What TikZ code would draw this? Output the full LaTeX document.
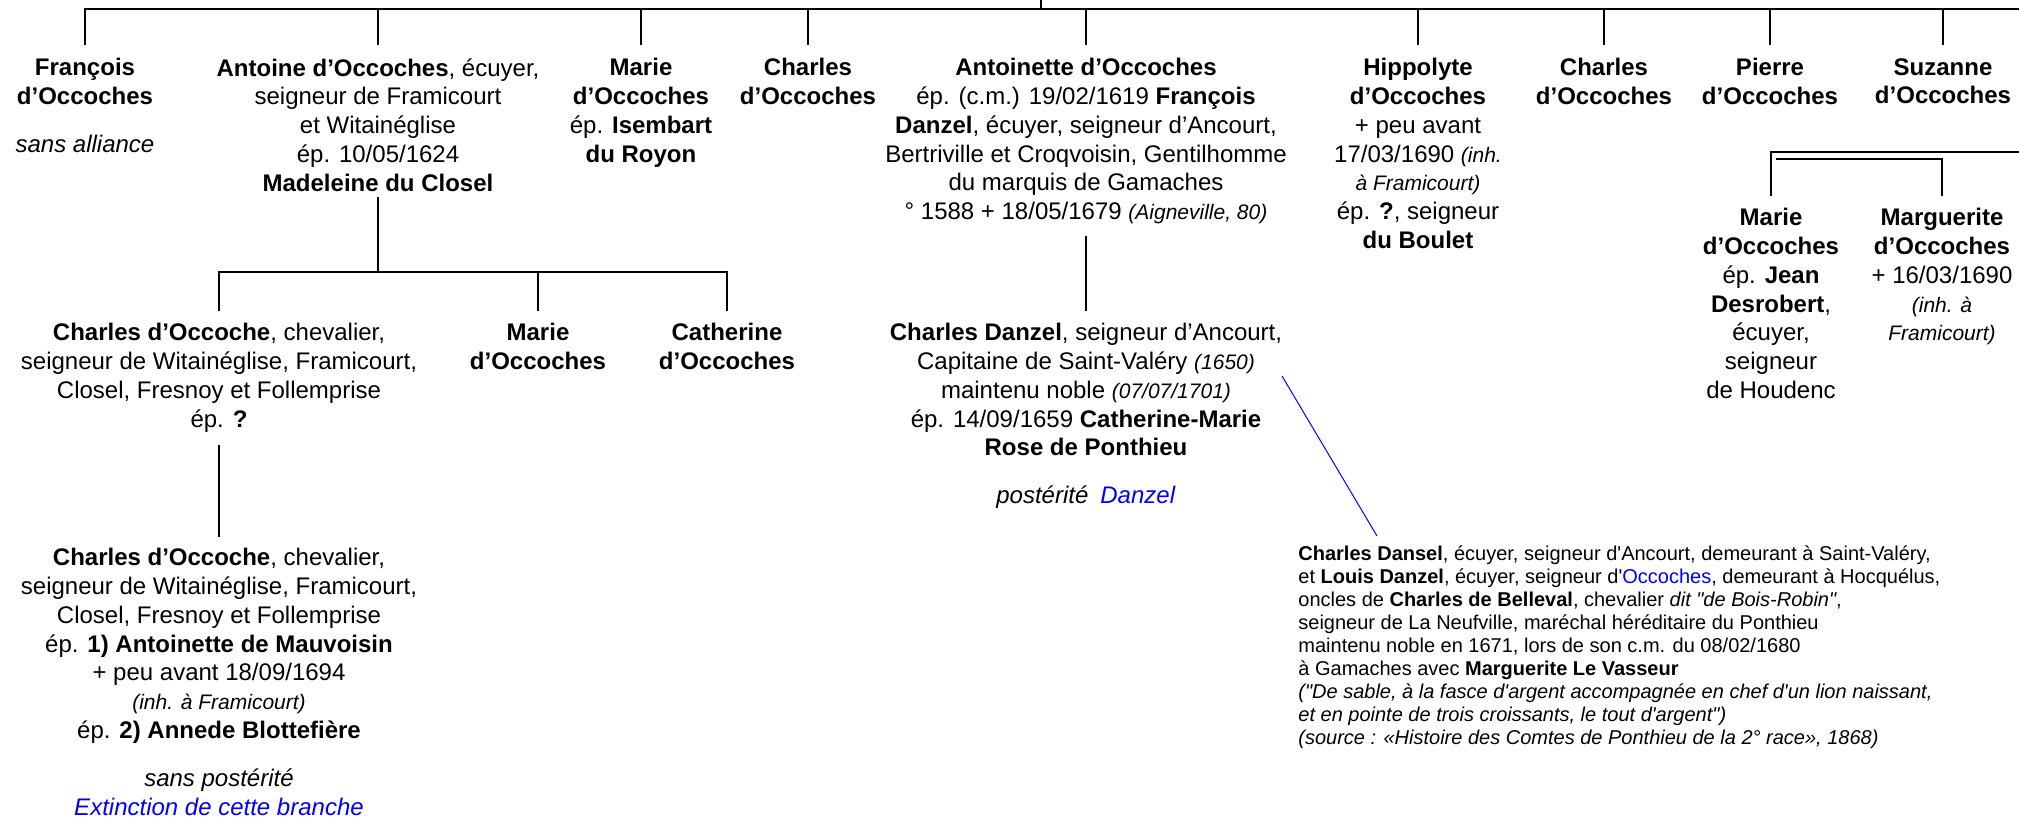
\documentclass[tikz,border=0pt]{standalone}
\usepackage{fontspec}
\setmainfont{Liberation Sans}
\newfontfamily\notefont{Liberation Sans}[Ligatures=TeXOff]
\usepackage{xcolor}
\tikzstyle{personne} = [align=center, inner sep=0pt, anchor=north,
    font=\fontsize{12}{14.4}\selectfont]
\tikzstyle{notice} = [align=left, inner sep=0pt, anchor=north west,
    font=\notefont\fontsize{10}{11.5}\selectfont]
\tikzstyle{lien} = [line width=1.4pt, line cap=rect]
\tikzstyle{renvoi} = [draw=blue, line width=0.5pt]
\newcommand{\remarque}[1]{{\fontsize{10.5}{12}\selectfont\itshape #1}}

\begin{document}
\begin{tikzpicture}[x=0.5pt,y=-0.5pt]
\useasboundingbox (0,0) rectangle (2019,817);
\coordinate (souche) at (1041,0);
\coordinate (haut) at (0,9);
\coordinate (bord) at (2019,9);
% enfants
\node[personne] (francois) at (85,58) {\textbf{François}\\\textbf{d’Occoches}\\[9.5pt]\textit{sans alliance}};
\node[personne] (antoine) at (378,58) {\textbf{Antoine d’Occoches}, écuyer,\\seigneur de Framicourt\\et Witainéglise\\ép. 10/05/1624\\\textbf{Madeleine du Closel}};
\node[personne] (marie) at (641,58) {\textbf{Marie}\\\textbf{d’Occoches}\\ép. \textbf{Isembart}\\\textbf{du Royon}};
\node[personne] (charles) at (808,58) {\textbf{Charles}\\\textbf{d’Occoches}};
\node[personne] (antoinette) at (1086,58) {\textbf{Antoinette d’Occoches}\\ép. (c.m.) 19/02/1619 \textbf{François}\\\textbf{Danzel}, écuyer, seigneur d’Ancourt,\\Bertriville et Croqvoisin, Gentilhomme\\du marquis de Gamaches\\° 1588 + 18/05/1679 \remarque{(Aigneville, 80)}};
\node[personne] (hippolyte) at (1418,58) {\textbf{Hippolyte}\\\textbf{d’Occoches}\\+ peu avant\\17/03/1690 \remarque{(inh.}\\\remarque{à Framicourt)}\\ép. \textbf{?}, seigneur\\\textbf{du Boulet}};
\node[personne] (charlesb) at (1604,58) {\textbf{Charles}\\\textbf{d’Occoches}};
\node[personne] (pierre) at (1770,58) {\textbf{Pierre}\\\textbf{d’Occoches}};
\node[personne] (suzanne) at (1943,58) {\textbf{Suzanne}\\\textbf{d’Occoches}};
\draw[lien] (souche) -- (souche |- haut);
\draw[lien] (francois.north |- haut) -- (bord);
\foreach \n in {francois,antoine,marie,charles,antoinette,hippolyte,charlesb,pierre,suzanne}
    \draw[lien, shorten >=7pt] (\n.north |- haut) -- (\n.north);
% descendance d'Antoine
\coordinate (barre) at (0,272);
\node[personne] (charlesc) at (219,323) {\textbf{Charles d’Occoche}, chevalier,\\seigneur de Witainéglise, Framicourt,\\Closel, Fresnoy et Follemprise\\ép. \textbf{?}};
\node[personne] (marieb) at (538,323) {\textbf{Marie}\\\textbf{d’Occoches}};
\node[personne] (catherine) at (727,323) {\textbf{Catherine}\\\textbf{d’Occoches}};
\draw[lien, shorten <=3pt] (antoine.south) -- (antoine.south |- barre);
\draw[lien] (charlesc.north |- barre) -- (catherine.north |- barre);
\foreach \n in {charlesc,marieb,catherine}
    \draw[lien, shorten >=6.5pt] (\n.north |- barre) -- (\n.north);
\node[personne] (charlesd) at (219,548) {\textbf{Charles d’Occoche}, chevalier,\\seigneur de Witainéglise, Framicourt,\\Closel, Fresnoy et Follemprise\\ép. \textbf{1) Antoinette de Mauvoisin}\\+ peu avant 18/09/1694\\\remarque{(inh. à Framicourt)}\\ép. \textbf{2) Annede Blottefière}\\[9.5pt]\textit{sans postérité}\\\textcolor{blue}{\textit{Extinction de cette branche}}};
\draw[lien, shorten <=7pt, shorten >=6pt] (charlesc.south) -- (charlesd.north);
% descendance d'Antoinette
\node[personne] (danzel) at (1086,323) {\textbf{Charles Danzel}, seigneur d’Ancourt,\\Capitaine de Saint-Valéry \remarque{(1650)}\\maintenu noble \remarque{(07/07/1701)}\\ép. 14/09/1659 \textbf{Catherine-Marie}\\\textbf{Rose de Ponthieu}\\[9.5pt]\textit{postérité}\hspace{0.5em}\textcolor{blue}{\textit{Danzel}}};
\draw[lien, shorten <=6.5pt, shorten >=6.5pt] (antoinette.south) -- (danzel.north);
\node[notice] (notice) at (1298,545) {\textbf{Charles Dansel}, écuyer, seigneur d'Ancourt, demeurant à Saint-Valéry,\\et \textbf{Louis Danzel}, écuyer, seigneur d'\textcolor{blue}{Occoches}, demeurant à Hocquélus,\\oncles de \textbf{Charles de Belleval}, chevalier \textit{dit "de Bois-Robin"},\\seigneur de La Neufville, maréchal héréditaire du Ponthieu\\maintenu noble en 1671, lors de son c.m. du 08/02/1680\\à Gamaches avec \textbf{Marguerite Le Vasseur}\\\textit{("De sable, à la fasce d'argent accompagnée en chef d'un lion naissant,}\\\textit{et en pointe de trois croissants, le tout d'argent")}\\\textit{(source : «Histoire des Comtes de Ponthieu de la 2° race», 1868)}};
\coordinate (ancre) at (1282,376);
\coordinate (bout) at (1377,536);
\draw[renvoi] (ancre) -- (bout);
% branche de droite
\coordinate (bordb) at (2019,152);
\coordinate (barreb) at (1777,159);
\node[personne] (mariec) at (1771,208) {\textbf{Marie}\\\textbf{d’Occoches}\\ép. \textbf{Jean}\\\textbf{Desrobert},\\écuyer,\\seigneur\\de Houdenc};
\node[personne] (marguerite) at (1942,208) {\textbf{Marguerite}\\\textbf{d’Occoches}\\+ 16/03/1690\\\remarque{(inh. à}\\\remarque{Framicourt)}};
\draw[lien, shorten >=6.5pt] (bordb) -- (mariec.north |- bordb) -- (mariec.north);
\draw[lien, shorten >=6.5pt] (barreb) -- (marguerite.north |- barreb) -- (marguerite.north);
\end{tikzpicture}
\end{document}
